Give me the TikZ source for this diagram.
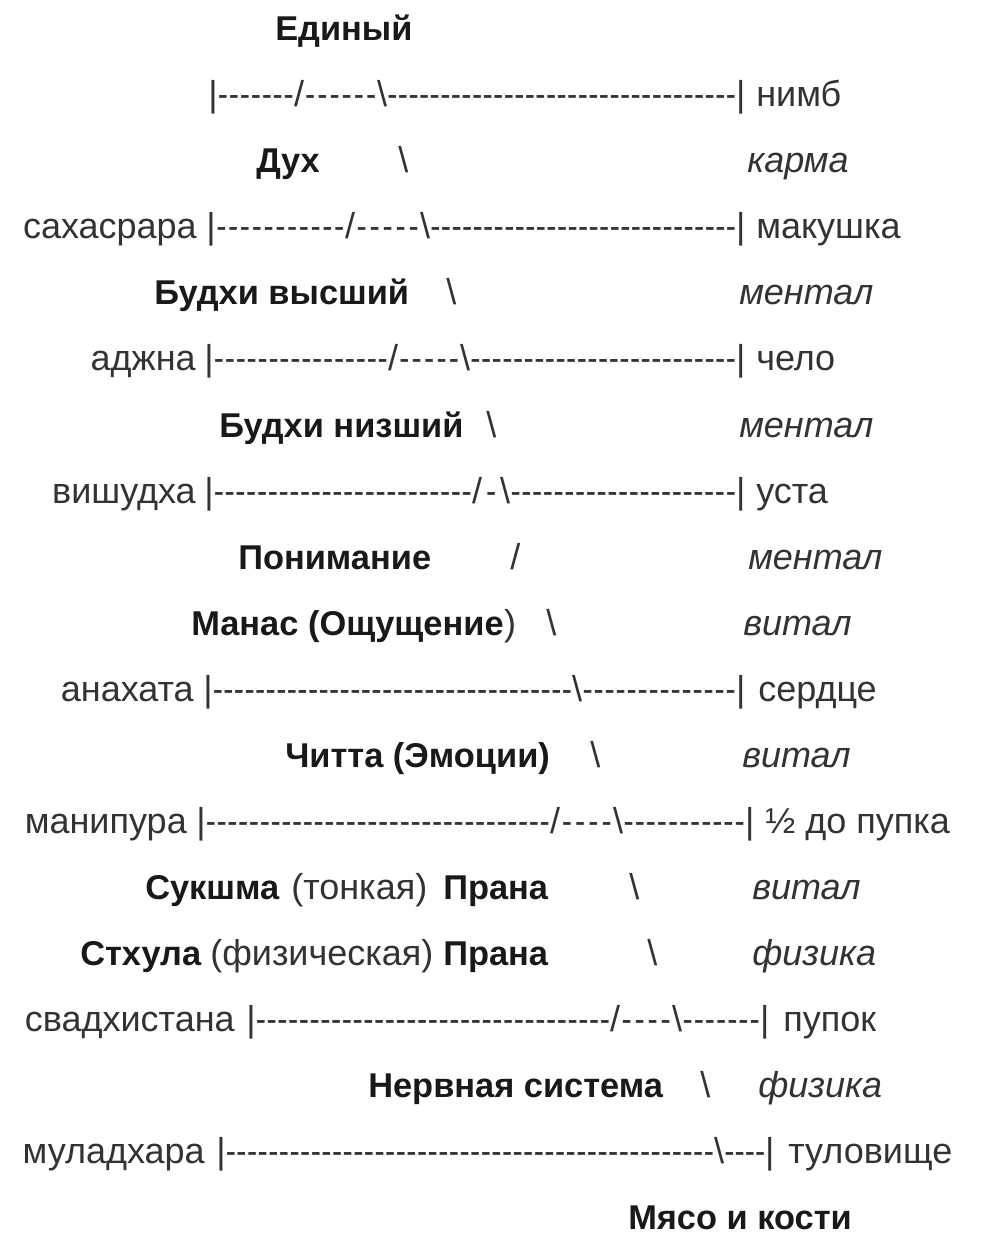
\documentclass[tikz,border=0pt]{standalone}
\usepackage{fontspec}
\setmainfont{Liberation Sans}
\usepackage{graphicx}

\newdimen\pxu \pxu=0.75pt
% n dashes spread over a width given in px
\newcommand\dashrun[2]{\hbox to #2\pxu{\xleaders\hbox to \dimexpr #2\pxu/#1-1sp\relax{\hss\scalebox{0.85}[1]{-}\hss}\hfill}}
\newcommand\rulerA[6]{|\dashrun{#1}{#2}/\dashrun{#3}{#4}\textbackslash\dashrun{#5}{#6}|}
\newcommand\rulerB[4]{|\dashrun{#1}{#2}\textbackslash\dashrun{#3}{#4}|}

\tikzset{
  txt/.style={anchor=base west, inner sep=0pt, text=black!80, font=\fontsize{27}{32}\selectfont},
  key/.style={txt, text=black!90, font=\fontsize{25.8}{30}\selectfont\bfseries},
  lvl/.style={txt, font=\fontsize{27}{32}\selectfont\itshape},
  chakra/.style={txt, anchor=base east},
}

\begin{document}
\begin{tikzpicture}[x=0.75pt,y=-0.75pt]
\useasboundingbox (0,0) rectangle (997,1251);
\node[key] (edin) at (275,41) {Единый};
% nimb
\node[txt] (r1) at (208,107) {\rulerA{7}{76.6}{6}{73}{33}{349}};
\node[txt] (nimb) at (756,107) {нимб};
\node[key] (dukh) at (256,173) {Дух};
\node[txt] (s2) at (398,173) {\textbackslash};
\node[lvl] (l2) at (747,173) {карма};
% sahasrara
\node[chakra] (c3) at (197,239) {сахасрара};
\node[txt] (r3) at (206,239) {\rulerA{11}{129.6}{5}{65}{29}{306}};
\node[txt] (p3) at (756,239) {макушка};
\node[key] (budv) at (154,305) {Будхи высший};
\node[txt] (s4) at (446,305) {\textbackslash};
\node[lvl] (l4) at (739,305) {ментал};
% adzhna
\node[chakra] (c5) at (196,371) {аджна};
\node[txt] (r5) at (204,371) {\rulerA{16}{174.6}{5}{62}{25}{266}};
\node[txt] (p5) at (756,371) {чело};
\node[key] (budn) at (219,437) {Будхи низший};
\node[txt] (s6) at (486,437) {\textbackslash};
\node[lvl] (l6) at (739,437) {ментал};
% vishudha
\node[chakra] (c7) at (196,503) {вишудха};
\node[txt] (r7) at (204,503) {\rulerA{24}{258.6}{1}{18}{21}{226}};
\node[txt] (p7) at (756,503) {уста};
\node[key] (ponim) at (238,569) {Понимание};
\node[txt] (s8) at (510,569) {/};
\node[lvl] (l8) at (748,569) {ментал};
\node[key] (manas) at (191,635) {Манас (Ощущение};
\node[txt] (manasb) at (manas.base east) {)};
\node[txt] (s9) at (546,635) {\textbackslash};
\node[lvl] (l9) at (743,635) {витал};
% anahata
\node[chakra] (c10) at (194,701) {анахата};
\node[txt] (r10) at (203,701) {\rulerB{34}{359.6}{14}{154}};
\node[txt] (p10) at (758,701) {сердце};
\node[key] (chitta) at (285,767) {Читта (Эмоции)};
\node[txt] (s11) at (590,767) {\textbackslash};
\node[lvl] (l11) at (742,767) {витал};
% manipura
\node[chakra] (c12) at (187,833) {манипура};
\node[txt] (r12) at (196,833) {\rulerA{32}{344.6}{4}{53}{11}{122}};
\node[txt] (p12) at (765,833) {½ до пупка};
\node[key] (suk) at (145,899) {Сукшма};
\node[txt] (suka) at (291,899) {(тонкая)};
\node[key] (sukb) at (443,899) {Прана};
\node[txt] (s13) at (629,899) {\textbackslash};
\node[lvl] (l13) at (752,899) {витал};
\node[key] (sth) at (80,965) {Стхула};
\node[txt] (stha) at (210,965) {(физическая)};
\node[key] (sthb) at (443,965) {Прана};
\node[txt] (s14) at (647,965) {\textbackslash};
\node[lvl] (l14) at (752,965) {физика};
% svadhistana
\node[chakra] (c15) at (235,1031) {свадхистана};
\node[txt] (r15) at (246,1031) {\rulerA{33}{354.6}{4}{52}{7}{78}};
\node[txt] (p15) at (783,1031) {пупок};
\node[key] (nerv) at (368,1097) {Нервная система};
\node[txt] (s16) at (700,1097) {\textbackslash};
\node[lvl] (l16) at (758,1097) {физика};
% muladhara
\node[chakra] (c17) at (205,1163) {муладхара};
\node[txt] (r17) at (216,1163) {\rulerB{46}{488.6}{4}{41}};
\node[txt] (p17) at (788,1163) {туловище};
\node[key] (myaso) at (628,1229) {Мясо и кости};
\end{tikzpicture}
\end{document}
